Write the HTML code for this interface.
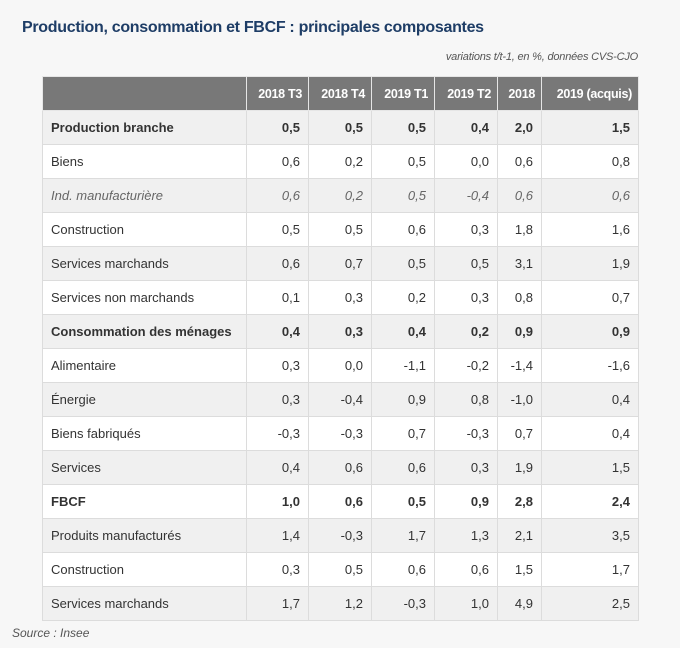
<!DOCTYPE html>
<html><head><meta charset="utf-8">
<style>
html,body{margin:0;padding:0;background:#f7f7f7;width:680px;height:648px;overflow:hidden;font-family:"Liberation Sans",sans-serif;color:#333}
.title{position:absolute;left:22px;top:19px;font-size:16px;font-weight:bold;color:#1e3d66;letter-spacing:-0.3px}
.sub{position:absolute;right:42px;top:51px;font-size:11px;font-style:italic;color:#555;letter-spacing:-0.2px}
table{position:absolute;left:42px;top:76px;border-collapse:collapse;font-size:13px;table-layout:fixed;width:596px}
td,th{border:1px solid #dcdcdc;height:34px;padding:0 8px;text-align:right;box-sizing:border-box;white-space:nowrap;overflow:hidden}
th{background:#787878;color:#fff;font-weight:bold;border-color:#e6e6e6;height:34px;padding:0 6px;font-size:12.5px;letter-spacing:-0.3px}
td:first-child{text-align:left;padding-left:8px}
tr:nth-child(odd) td{background:#f0f0f0}
tr:nth-child(even) td{background:#fff}
.b td{font-weight:bold}
.i td{font-style:italic;color:#666}
.src{position:absolute;left:12px;top:626px;font-size:12px;font-style:italic;color:#555}
</style></head><body>
<div class="title">Production, consommation et FBCF : principales composantes</div>
<div class="sub">variations t/t-1, en %, données CVS-CJO</div>
<table>
<colgroup><col style="width:204px"><col style="width:62px"><col style="width:63px"><col style="width:63px"><col style="width:63px"><col style="width:44px"><col style="width:97px"></colgroup>
<thead><tr><th></th><th>2018 T3</th><th>2018 T4</th><th>2019 T1</th><th>2019 T2</th><th>2018</th><th>2019 (acquis)</th></tr></thead>
<tbody>
<tr class="b"><td>Production branche</td><td>0,5</td><td>0,5</td><td>0,5</td><td>0,4</td><td>2,0</td><td>1,5</td></tr>
<tr><td>Biens</td><td>0,6</td><td>0,2</td><td>0,5</td><td>0,0</td><td>0,6</td><td>0,8</td></tr>
<tr class="i"><td>Ind. manufacturière</td><td>0,6</td><td>0,2</td><td>0,5</td><td>-0,4</td><td>0,6</td><td>0,6</td></tr>
<tr><td>Construction</td><td>0,5</td><td>0,5</td><td>0,6</td><td>0,3</td><td>1,8</td><td>1,6</td></tr>
<tr><td>Services marchands</td><td>0,6</td><td>0,7</td><td>0,5</td><td>0,5</td><td>3,1</td><td>1,9</td></tr>
<tr><td>Services non marchands</td><td>0,1</td><td>0,3</td><td>0,2</td><td>0,3</td><td>0,8</td><td>0,7</td></tr>
<tr class="b"><td>Consommation des ménages</td><td>0,4</td><td>0,3</td><td>0,4</td><td>0,2</td><td>0,9</td><td>0,9</td></tr>
<tr><td>Alimentaire</td><td>0,3</td><td>0,0</td><td>-1,1</td><td>-0,2</td><td>-1,4</td><td>-1,6</td></tr>
<tr><td>Énergie</td><td>0,3</td><td>-0,4</td><td>0,9</td><td>0,8</td><td>-1,0</td><td>0,4</td></tr>
<tr><td>Biens fabriqués</td><td>-0,3</td><td>-0,3</td><td>0,7</td><td>-0,3</td><td>0,7</td><td>0,4</td></tr>
<tr><td>Services</td><td>0,4</td><td>0,6</td><td>0,6</td><td>0,3</td><td>1,9</td><td>1,5</td></tr>
<tr class="b"><td>FBCF</td><td>1,0</td><td>0,6</td><td>0,5</td><td>0,9</td><td>2,8</td><td>2,4</td></tr>
<tr><td>Produits manufacturés</td><td>1,4</td><td>-0,3</td><td>1,7</td><td>1,3</td><td>2,1</td><td>3,5</td></tr>
<tr><td>Construction</td><td>0,3</td><td>0,5</td><td>0,6</td><td>0,6</td><td>1,5</td><td>1,7</td></tr>
<tr><td>Services marchands</td><td>1,7</td><td>1,2</td><td>-0,3</td><td>1,0</td><td>4,9</td><td>2,5</td></tr>
</tbody></table>
<div class="src">Source : Insee</div>
</body></html>
